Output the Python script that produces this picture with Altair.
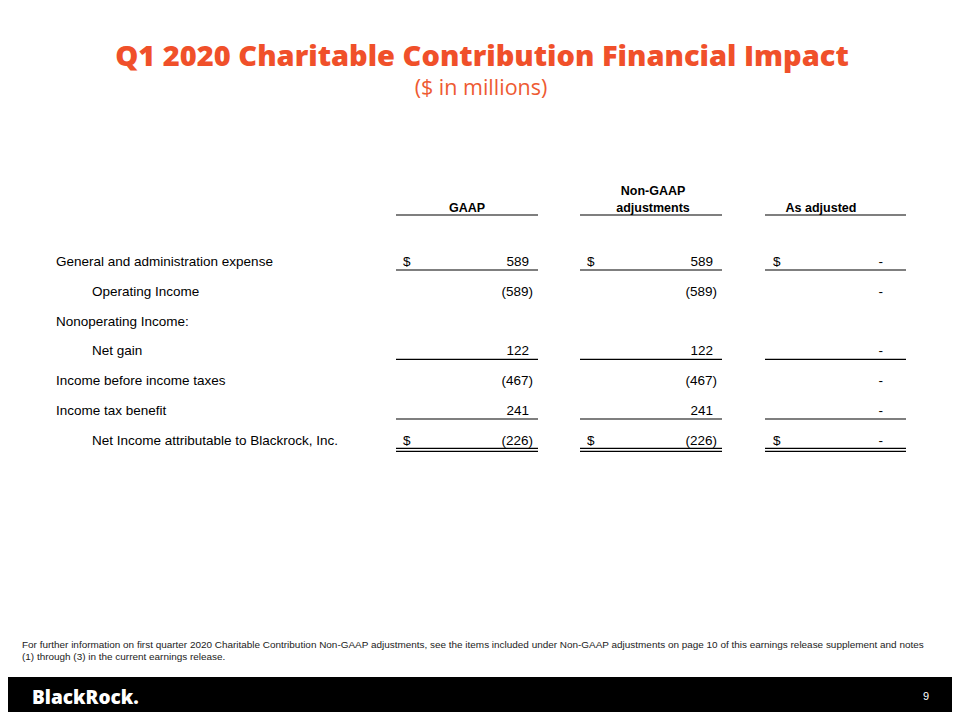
import altair as alt
import pandas as pd

# ---------------- data ----------------
title_text = "Q1 2020 Charitable Contribution Financial Impact"
subtitle_text = "($ in millions)"

header_lines = [["GAAP"], ["Non-GAAP", "adjustments"], ["As adjusted"]]

row_labels = [
    "General and administration expense",
    "Operating Income",
    "Nonoperating Income:",
    "Net gain",
    "Income before income taxes",
    "Income tax benefit",
    "Net Income attributable to Blackrock, Inc.",
]
row_indented = [False, True, False, True, False, False, True]
gaap_values = ["589", "(589)", "", "122", "(467)", "241", "(226)"]
non_gaap_values = ["589", "(589)", "", "122", "(467)", "241", "(226)"]
as_adjusted_values = ["-", "-", "", "-", "-", "-", "-"]
dollar_rows = [0, 6]
single_rule_rows = [0, 3, 5]
double_rule_rows = [6]

footnote_lines = [
    "For further information on first quarter 2020 Charitable Contribution Non-GAAP adjustments, see the items included under Non-GAAP adjustments on page 10 of this earnings release supplement and notes",
    "(1) through (3) in the current earnings release.",
]
brand_text = "BlackRock."
page_number = "9"

# ---------------- layout ----------------
ORANGE = "#F0502A"
BODY_FONT = "Liberation Sans"
ROW_Y0, ROW_PITCH = 262, 29.8
LABEL_X, INDENT_X = 56, 92
COL_RULE = [(396, 538), (580, 722), (765, 906)]
COL_DOLLAR_X = [403, 587, 773]
COL_VALUE_RIGHT = [529, 713, 883]
PAREN_SHIFT = 4
HEADER_CX = [467, 653, 821]
HEADER_RULE_Y = 215

XS = alt.Scale(domain=[8, 952], nice=False, zero=False)
YS = alt.Scale(domain=[8, 712], nice=False, zero=False, reverse=True)


def enc(**extra):
    d = dict(
        x=alt.X("x:Q", scale=XS, axis=None),
        y=alt.Y("y:Q", scale=YS, axis=None),
    )
    d.update(extra)
    return d


def text_layer(df, **mark):
    return alt.Chart(df).mark_text(baseline="middle", **mark).encode(**enc(text="t:N"))


def row_y(i):
    return ROW_Y0 + ROW_PITCH * i


# footer bar
footer_df = pd.DataFrame({"x": [0], "x2": [960], "y": [677], "y2": [720]})
footer = alt.Chart(footer_df).mark_rect(color="#000000").encode(
    **enc(x2="x2:Q", y2="y2:Q")
)

title = text_layer(pd.DataFrame({"x": [482], "y": [57], "t": [title_text]}),
                   font="Open Sans", fontSize=29, fontWeight=800, color=ORANGE, align="center")
subtitle = text_layer(pd.DataFrame({"x": [481], "y": [89], "t": [subtitle_text]}),
                      font="Open Sans", fontSize=21.5, fontWeight="normal", color="#EE5A32", align="center")

# headers
hx, hy, ht = [], [], []
for c, lines in enumerate(header_lines):
    n = len(lines)
    for k, line in enumerate(lines):
        hx.append(HEADER_CX[c])
        hy.append(208 - 17 * (n - 1 - k))
        ht.append(line)
headers = text_layer(pd.DataFrame({"x": hx, "y": hy, "t": ht}),
                     font=BODY_FONT, fontSize=12.5, fontWeight="bold", color="#000000", align="center")

rule_rows = []
for c, (a, b) in enumerate(COL_RULE):
    rule_rows.append({"x": a, "x2": b, "y": HEADER_RULE_Y})
    for r in single_rule_rows:
        rule_rows.append({"x": a, "x2": b, "y": row_y(r) + 8})
    for r in double_rule_rows:
        rule_rows.append({"x": a, "x2": b, "y": row_y(r) + 7.5})
        rule_rows.append({"x": a, "x2": b, "y": row_y(r) + 10.5})
rules = alt.Chart(pd.DataFrame(rule_rows)).mark_rule(color="#000000", strokeWidth=1.2).encode(
    **enc(x2="x2:Q")
)

labels_df = pd.DataFrame({
    "x": [INDENT_X if ind else LABEL_X for ind in row_indented],
    "y": [row_y(i) for i in range(len(row_labels))],
    "t": row_labels,
})
labels = text_layer(labels_df, font=BODY_FONT, fontSize=13.5, color="#000000", align="left")

val_rows = []
for c, vals in enumerate([gaap_values, non_gaap_values, as_adjusted_values]):
    for i, v in enumerate(vals):
        if not v:
            continue
        shift = PAREN_SHIFT if v.startswith("(") else 0
        val_rows.append({"x": COL_VALUE_RIGHT[c] + shift, "y": row_y(i), "t": v})
values = text_layer(pd.DataFrame(val_rows), font=BODY_FONT, fontSize=13.5, color="#000000", align="right")

dol_rows = []
for c in range(3):
    for r in dollar_rows:
        dol_rows.append({"x": COL_DOLLAR_X[c], "y": row_y(r), "t": "$"})
dollars = text_layer(pd.DataFrame(dol_rows), font=BODY_FONT, fontSize=13.5, color="#000000", align="left")

foot = text_layer(pd.DataFrame({"x": [22, 22], "y": [645, 657], "t": footnote_lines}),
                  font=BODY_FONT, fontSize=9.95, color="#222222", align="left")

brand = text_layer(pd.DataFrame({"x": [32], "y": [698], "t": [brand_text]}),
                   font="Open Sans", fontSize=19, fontWeight=800, color="#FFFFFF", align="left")
pnum = text_layer(pd.DataFrame({"x": [926], "y": [697], "t": [page_number]}),
                  font=BODY_FONT, fontSize=11, color="#FFFFFF", align="center")

chart = alt.layer(
    footer, title, subtitle, headers, rules, labels, values, dollars, foot, brand, pnum
).properties(
    width=944, height=704,
    autosize=alt.AutoSizeParams(type="none"),
    padding=0,
    background="#FFFFFF",
).configure_view(strokeWidth=0)

chart.save("out.html", embed_options={"renderer": "svg", "actions": False})
